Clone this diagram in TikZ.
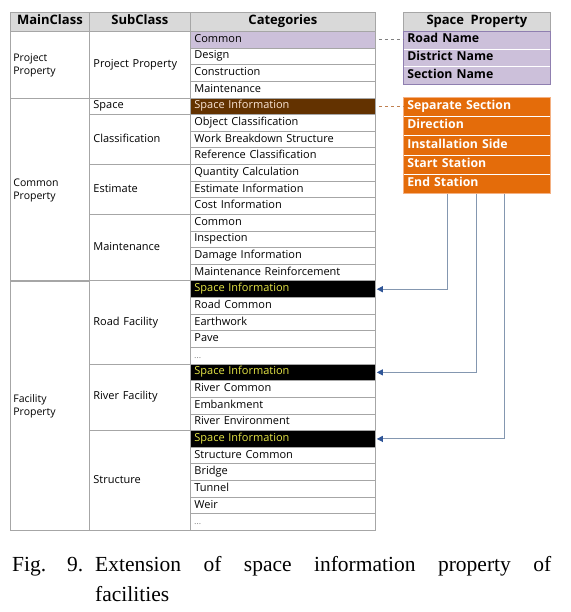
\documentclass[tikz,border=0pt]{standalone}
\usepackage{fontspec}
\setmainfont{Liberation Serif}
\newfontfamily\tabfont{Open Sans}
\usetikzlibrary{arrows.meta,calc}
\definecolor{lav}{HTML}{CCC0DA}
\definecolor{lavborder}{HTML}{8F7FB0}
\definecolor{brn}{HTML}{633200}
\definecolor{brntext}{HTML}{FBE5D6}
\definecolor{org}{HTML}{E46C0A}
\definecolor{orgb}{HTML}{F4B183}
\definecolor{hdr}{HTML}{D9D9D9}
\definecolor{gridc}{HTML}{A6A6A6}
\definecolor{yel}{RGB}{230,230,70}
\definecolor{lnk}{HTML}{8497B0}
\definecolor{tipc}{HTML}{2F5597}
\definecolor{dashbrn}{HTML}{C08050}
\newcommand\celldots{{\fontsize{7}{8}\selectfont\textcolor{darkgray}{.\kern0.5pt.\kern0.5pt.}}}
\begin{document}
\begin{tikzpicture}[x=1pt,y=-1pt,
  cell/.style={draw=gridc, line width=0.8pt, inner xsep=4pt, inner ysep=0pt,
    anchor=north west, align=left, execute at begin node=\strut,
    font=\tabfont\fontsize{11}{13}\selectfont},
  maincell/.style={cell, inner xsep=3pt, text width=73pt,
    font=\tabfont\fontsize{10.5}{13.5}\selectfont},
  hdrcell/.style={cell, fill=hdr, align=center, minimum height=19pt,
    font=\tabfont\bfseries\fontsize{13}{15}\selectfont},
  catcell/.style={cell, text width=177pt, minimum height=16.633pt},
  catw/.style={},
  catl/.style={fill=lav},
  catb/.style={fill=brn, text=brntext},
  catk/.style={fill=black, text=yel},
  boxrow/.style={draw=white, line width=0.6pt, inner xsep=4pt, inner ysep=0pt,
    anchor=north west, align=left, text width=139pt, execute at begin node=\strut,
    font=\tabfont\bfseries\fontsize{12.3}{14}\selectfont},
  capfont/.style={font=\fontsize{21.5}{25}\selectfont, inner sep=0pt, anchor=base west}
]
\path[use as bounding box] (0,0) rectangle (570,612);

% header
\node[hdrcell, text width=71pt] (h1) at (10,12) {MainClass};
\node[hdrcell, text width=93pt] (h2) at (89,12) {SubClass};
\node[hdrcell, text width=177pt] (h3) at (190,12) {Categories};

% main classes
\node[maincell, minimum height=66.53pt] (m1) at (10,31) {Project\\Property};
\node[maincell, minimum height=182.96pt] (m2) at (10,97.53) {Common\\Property};
\node[maincell, minimum height=249.5pt] (m3) at (10,280.5) {Facility\\Property};

% sub classes
\foreach \n/\r/\k/\t in {1/1/4/Project Property, 2/5/1/Space, 3/6/3/Classification,
  4/9/3/Estimate, 5/12/4/Maintenance, 6/16/5/Road Facility, 7/21/4/River Facility,
  8/25/6/Structure}
  \node[cell, text width=93pt, minimum height={\k*16.633}] (s\n) at (89,{31+(\r-1)*16.633}) {\t};

% categories
\foreach \i/\t/\s in {1/Common/catl, 2/Design/catw, 3/Construction/catw, 4/Maintenance/catw,
  5/Space Information/catb, 6/Object Classification/catw, 7/Work Breakdown Structure/catw,
  8/Reference Classification/catw, 9/Quantity Calculation/catw, 10/Estimate Information/catw,
  11/Cost Information/catw, 12/Common/catw, 13/Inspection/catw, 14/Damage Information/catw,
  15/Maintenance Reinforcement/catw, 16/Space Information/catk, 17/Road Common/catw,
  18/Earthwork/catw, 19/Pave/catw, 20/\celldots/catw, 21/Space Information/catk,
  22/River Common/catw, 23/Embankment/catw, 24/River Environment/catw,
  25/Space Information/catk, 26/Structure Common/catw, 27/Bridge/catw, 28/Tunnel/catw,
  29/Weir/catw, 30/\celldots/catw}
  \node[catcell, \s] (c\i) at (190,{31+(\i-1)*16.633}) {\t};

% space property box
\node[hdrcell, text width=139pt] (sp) at (403,12) {Space\enspace Property};
\foreach \i/\t in {1/Road Name, 2/District Name, 3/Section Name}
  \node[boxrow, fill=lav, minimum height=17.7pt] (r\i) at (403,{31+(\i-1)*17.7}) {\t};
\draw[lavborder, line width=0.8pt] (r1.north west) rectangle (r3.south east);

% orange box
\foreach \i/\t in {1/Separate Section, 2/Direction, 3/Installation Side, 4/Start Station, 5/End Station}
  \node[boxrow, fill=org, text=white, minimum height=19.2pt] (o\i) at (403,{97+(\i-1)*19.2}) {\t};
\draw[orgb, line width=0.8pt] (o1.north west) rectangle (o5.south east);

% connectors
\draw[gray, dashed, line width=0.8pt] ([xshift=3pt]c1.east) -- (c1.east -| r1.west);
\draw[dashbrn, dashed, line width=0.8pt] ([xshift=3pt]c5.east) -- (c5.east -| o1.west);
\foreach \dx/\c in {44/16, 73/21, 101/25}
  \draw[lnk, line width=1pt, -{Triangle[length=6pt,width=6pt,color=tipc]}]
    ([xshift=\dx pt]o5.south west) |- ([xshift=1pt]c\c.east);

% caption
\node[capfont] (cap1) at (12,571) {\makebox[55pt][l]{Fig.}\makebox[28pt][l]{9.}\makebox[456pt][s]{Extension of space information property of}};
\node[capfont] (cap2) at (95,601) {facilities};
\end{tikzpicture}
\end{document}
